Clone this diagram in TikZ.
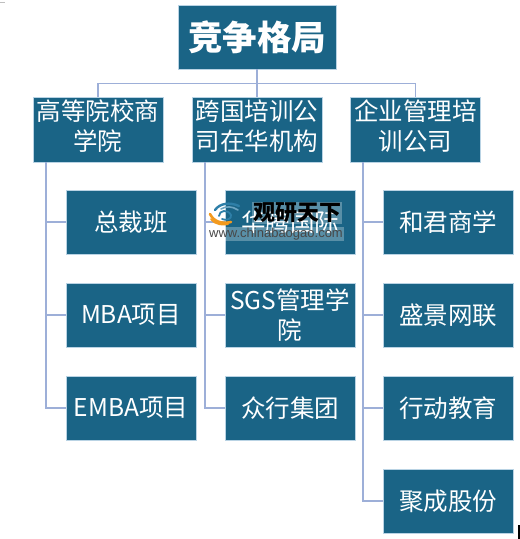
\documentclass[tikz,border=0pt]{standalone}
\usepackage{fontspec}
\setmainfont{Noto Sans CJK SC}
\newfontfamily\latinf{Liberation Sans}
\definecolor{boxblue}{HTML}{1A6486}
\definecolor{boxline}{HTML}{B9D3E4}
\definecolor{linkblue}{HTML}{9DAFD8}
\definecolor{logoblue}{HTML}{2E7FA8}
\definecolor{logoorange}{HTML}{F39A1E}
\tikzset{
 x=1pt,y=-1pt,
 bx/.style={draw=boxline,line width=0.8pt,fill=boxblue,text=white,align=center,inner sep=0pt,font=\fontsize{24.5}{29.5}\selectfont},
 lvl/.style={bx,minimum width=130pt,minimum height=65pt,text depth=10pt},
 kid/.style={bx,minimum width=130pt,minimum height=64pt},
 link/.style={draw=linkblue,line width=1.2pt},
 wmtext/.style={inner sep=1pt,fill=white,fill opacity=.28,text opacity=1},
 swoosh/.style={line cap=round},
}
\begin{document}
\begin{tikzpicture}
\useasboundingbox (0,0) rectangle (520,539);
\fill[white] (0,0) rectangle (520,539);
\node[bx,minimum width=158pt,minimum height=64pt,font=\fontsize{34.5}{38}\selectfont\bfseries] (root) at (257,37) {竞争格局};
\node[lvl] (a) at (98,130) {高等院校商\\学院};
\node[lvl] (b) at (257,130) {跨国培训公\\司在华机构};
\node[lvl] (c) at (415.5,130) {企业管理培\\训公司};
\node[kid] (a1) at (131,222) {总裁班};
\node[kid] (a2) at (131,315) {MBA项目};
\node[kid] (a3) at (131,408) {EMBA项目};
\node[kid] (b1) at (290,222) {华腾国际};
\node[kid] (b2) at (290,315) {SGS管理学\\院};
\node[kid] (b3) at (290,408) {众行集团};
\node[kid] (c1) at (448,222) {和君商学};
\node[kid] (c2) at (448,315) {盛景网联};
\node[kid] (c3) at (448,408) {行动教育};
\node[kid] (c4) at (448,501) {聚成股份};
\coordinate (bus) at (257,83.5);
\coordinate (aout) at (46,162);
\coordinate (bout) at (205,162);
\coordinate (cout) at (363,162);
\draw[link] (root.south) -- (b.north);
\draw[link] (a.north) |- (bus) -| (c.north);
\foreach \k in {a1,a2,a3}{\draw[link] (aout) |- (\k.west);}
\foreach \k in {b1,b2,b3}{\draw[link] (bout) |- (\k.west);}
\foreach \k in {c1,c2,c3,c4}{\draw[link] (cout) |- (\k.west);}
% watermark
\node[wmtext,font=\fontsize{22}{22}\selectfont\bfseries,text=black] (wm) at (297,213) {观研天下};
\node[wmtext,font=\latinf\fontsize{13}{14}\selectfont,text=black!72] (wmu) at (276,234) {www.chinabaogao.com};
\draw[swoosh,line width=2.6pt,logoorange] (210,214) .. controls (214,222) and (222,224) .. (231,222);
\draw[swoosh,line width=2pt,logoorange] (211,219) .. controls (216,225) and (223,225) .. (228,224);
\draw[swoosh,line width=2.4pt,logoblue] (215,210) .. controls (220,203) and (230,202) .. (239,206);
\draw[swoosh,line width=1.6pt,logoblue!70] (221,209) .. controls (226,206) and (232,206) .. (238,210);
\draw[swoosh,line width=1.8pt,logoblue] (219,216) .. controls (219,210) and (228,209) .. (231,215) .. controls (232,219) and (226,221) .. (222,219);
% scan marks at the page edges
\draw[black,line width=1.5pt] (519.2,525) -- (519.2,539);
\draw[black!25,line width=.8pt] (0,2) -- (5,2);
\end{tikzpicture}
\end{document}
